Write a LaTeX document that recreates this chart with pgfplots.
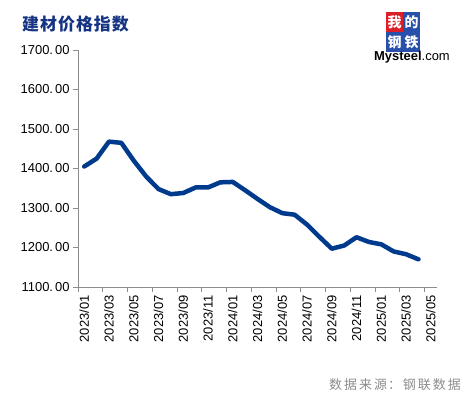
\documentclass[border=0pt]{standalone}
\usepackage{pgfplots}
\pgfplotsset{compat=1.18}
\usepackage{fontspec}
\setmainfont{Liberation Sans}
\newfontfamily\cjk{Noto Sans CJK SC}
\definecolor{navy}{RGB}{0,58,140}
\definecolor{ttl}{RGB}{22,52,132}
\definecolor{axgray}{RGB}{140,140,140}
\definecolor{srcgray}{RGB}{140,140,140}
\definecolor{logored}{RGB}{220,30,40}
\definecolor{logoblue}{RGB}{40,80,170}
\begin{document}
\begin{tikzpicture}[x=1bp,y=1bp]
\useasboundingbox (0,0) rectangle (465,397);
\begin{axis}[
  at={(78bp,110bp)}, anchor=south west, scale only axis,
  width=359bp, height=237bp,
  xmin=-0.5, xmax=28.5, ymin=1100, ymax=1700,
  axis lines*=left,
  axis line style={axgray, line width=0.8bp, -},
  tick style={axgray, line width=0.8bp},
  tick align=outside, major tick length=5bp,
  ytick={1100,1200,...,1700},
  yticklabels={{1100.\hspace{2bp}00},{1200.\hspace{2bp}00},{1300.\hspace{2bp}00},{1400.\hspace{2bp}00},{1500.\hspace{2bp}00},{1600.\hspace{2bp}00},{1700.\hspace{2bp}00}},
  xtick={-0.5,1.5,...,27.5},
  xticklabels={2023/01,2023/03,2023/05,2023/07,2023/09,2023/11,2024/01,2024/03,2024/05,2024/07,2024/09,2024/11,2025/01,2025/03,2025/05},
  xticklabel style={xshift=6.2bp, rotate=90, anchor=east},
  ticklabel style={font=\fontsize{13}{15}\selectfont, text=black},
  clip=false,
]
\addplot[navy, line width=4.5bp, line join=round, line cap=round] coordinates {
(0,1405) (1,1425) (2,1468) (3,1465) (4,1420) (5,1380) (6,1348) (7,1335)
(8,1338) (9,1352) (10,1352) (11,1365) (12,1366) (13,1345) (14,1323) (15,1302)
(16,1287) (17,1283) (18,1258) (19,1227) (20,1197) (21,1205) (22,1226) (23,1214)
(24,1208) (25,1190) (26,1183) (27,1170)
};
\end{axis}
% title
\node[anchor=west, inner sep=0, text=ttl] at (22,373) {\cjk\bfseries\fontsize{17}{19}\selectfont 建\kern1bp 材\kern1bp 价\kern1bp 格\kern1bp 指\kern1bp 数};
% source
\node[anchor=east, inner sep=0, text=srcgray] at (461,12) {\cjk\fontsize{13}{15}\selectfont 数\kern2bp 据\kern2bp 来\kern2bp 源\kern1bp ：\kern2bp 钢\kern2bp 联\kern2bp 数\kern2bp 据};
% logo
\fill[logored] (386,365) rectangle (403,385);
\fill[logoblue] (403,365) rectangle (420,385);
\fill[logoblue] (386,345) rectangle (403,365);
\fill[logoblue] (403,345) rectangle (420,365);
\node[text=white, inner sep=0] at (394.5,375) {\cjk\bfseries\fontsize{14}{14}\selectfont 我};
\node[text=white, inner sep=0] at (411.5,375) {\cjk\bfseries\fontsize{14}{14}\selectfont 的};
\node[text=white, inner sep=0] at (394.5,355) {\cjk\bfseries\fontsize{14}{14}\selectfont 钢};
\node[text=white, inner sep=0] at (411.5,355) {\cjk\bfseries\fontsize{14}{14}\selectfont 铁};
\node[anchor=west, inner sep=0] at (374,340) {\fontsize{13}{14}\selectfont\bfseries Mysteel\mdseries.com};
\end{tikzpicture}
\end{document}
